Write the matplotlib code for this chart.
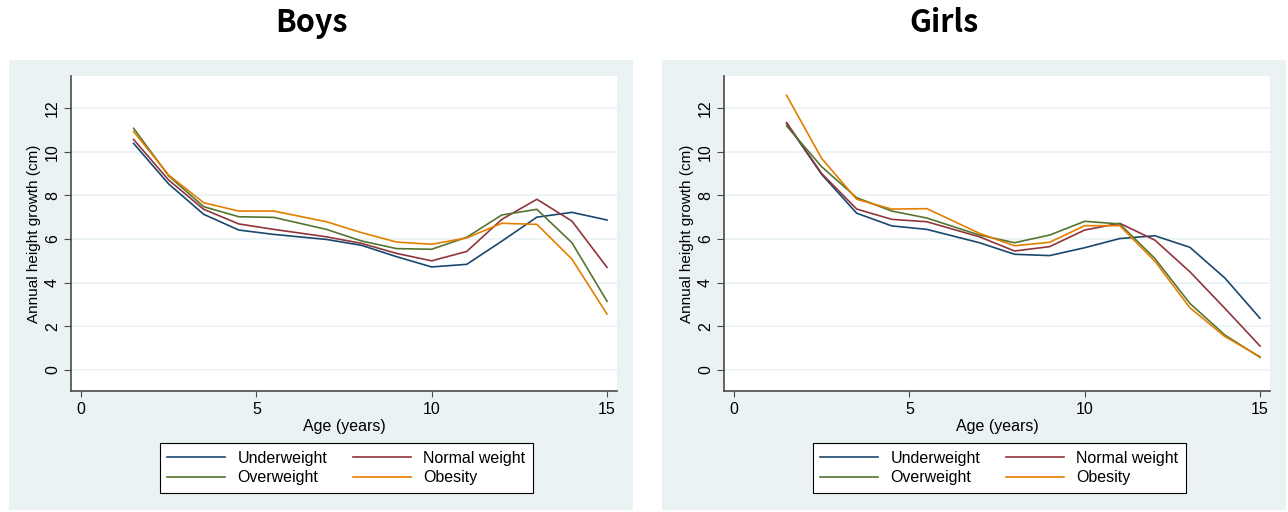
import numpy as np
import matplotlib
matplotlib.use("Agg")
import matplotlib.pyplot as plt
from matplotlib.patches import Rectangle

# ages (years)
ages = [1.5, 2.5, 3.5, 4.5, 5.5, 7, 8, 9, 10, 11, 12, 13, 14, 15]

groups = ["Underweight", "Normal weight", "Overweight", "Obesity"]
colors = ["#1A476F", "#90353B", "#55752F", "#E37E00"]

# annual height growth (cm) - boys
boys_under = [10.38, 8.52, 7.13, 6.41, 6.21, 5.98, 5.71, 5.19, 4.72, 4.84, 5.90, 7.00, 7.22, 6.87]
boys_normal = [10.56, 8.70, 7.36, 6.69, 6.44, 6.10, 5.80, 5.34, 5.00, 5.43, 6.90, 7.82, 6.82, 4.70]
boys_over = [11.07, 8.89, 7.48, 7.02, 6.99, 6.44, 5.91, 5.56, 5.53, 6.08, 7.10, 7.36, 5.83, 3.15]
boys_obese = [10.92, 8.93, 7.66, 7.28, 7.28, 6.79, 6.29, 5.86, 5.76, 6.05, 6.72, 6.67, 5.08, 2.56]

# annual height growth (cm) - girls
girls_under = [11.30, 8.96, 7.18, 6.60, 6.44, 5.83, 5.30, 5.24, 5.60, 6.02, 6.15, 5.62, 4.21, 2.37]
girls_normal = [11.33, 9.00, 7.37, 6.90, 6.79, 6.10, 5.45, 5.65, 6.41, 6.72, 5.95, 4.50, 2.82, 1.10]
girls_over = [11.18, 9.31, 7.89, 7.28, 6.96, 6.18, 5.83, 6.18, 6.81, 6.69, 5.11, 3.05, 1.60, 0.58]
girls_obese = [12.58, 9.69, 7.82, 7.37, 7.39, 6.26, 5.69, 5.85, 6.61, 6.61, 4.99, 2.85, 1.53, 0.61]

xticks = [0, 5, 10, 15]
yticks = [0, 2, 4, 6, 8, 10, 12]

bg = "#EAF2F3"
W, H = 1288, 512

plt.rcParams['font.family'] = ['Liberation Sans', 'DejaVu Sans']

fig = plt.figure(figsize=(W / 100, H / 100), dpi=100, facecolor="white")

# light panels behind each graph
for x0, x1 in [(9, 633), (662, 1286)]:
    fig.patches.append(Rectangle((x0 / W, 1 - 510 / H), (x1 - x0) / W, 450 / H,
                                 transform=fig.transFigure, facecolor=bg,
                                 edgecolor="none", zorder=-5))

panels = [
    ("Boys", 71, 312, [boys_under, boys_normal, boys_over, boys_obese]),
    ("Girls", 724, 944, [girls_under, girls_normal, girls_over, girls_obese]),
]

for title, left_px, title_x, series in panels:
    ax = fig.add_axes([left_px / W, 1 - 391 / H, 546 / W, 315 / H])
    ax.set_zorder(2)
    ax.set_facecolor("white")
    lines = []
    for vals, c, lab in zip(series, colors, groups):
        ln, = ax.plot(ages, vals, color=c, lw=1.2, label=lab)
        lines.append(ln)
    ax.set_xlim(-0.285, 15.285)
    ax.set_ylim(-0.962, 13.466)
    ax.set_xticks(xticks)
    ax.set_yticks(yticks)
    ax.grid(axis="y", color=bg, lw=1.2)
    ax.set_axisbelow(True)
    for s in ["top", "right"]:
        ax.spines[s].set_visible(False)
    for s in ["left", "bottom"]:
        ax.spines[s].set_color("#4a4a4a")
        ax.spines[s].set_linewidth(1.2)
    ax.tick_params(axis="y", length=5, width=0.8, color="#4a4a4a", labelsize=11.5,
                   labelrotation=90, pad=3)
    ax.tick_params(axis="x", length=4, width=0.8, color="#4a4a4a", labelsize=11.5, pad=4)
    for t in ax.get_yticklabels():
        t.set_va("center")
    ax.set_xlabel("Age (years)", fontsize=11.5, labelpad=1)
    ax.set_ylabel("Annual height growth (cm)", fontsize=11, labelpad=3)
    fig.text(title_x / W, 1 - 23 / H, title, ha="center", va="center",
             fontsize=22, fontweight="bold", family=["Noto Sans CJK JP", "DejaVu Sans"])
    # row-major order like the original: Under, Normal / Over, Obesity
    order = [0, 2, 1, 3]
    leg = ax.legend([lines[i] for i in order], [groups[i] for i in order],
                    ncol=2, loc="center",
                    bbox_to_anchor=((left_px + 275.5) / W, 1 - 468 / H),
                    bbox_transform=fig.transFigure, fontsize=11.5, frameon=True,
                    fancybox=False, edgecolor="black", facecolor="white",
                    framealpha=1, handlelength=3.6, handletextpad=0.8,
                    columnspacing=1.6, labelspacing=0.3, borderpad=0.45)
    leg.get_frame().set_linewidth(0.8)

fig.savefig("out.png", dpi=100, facecolor="white")
